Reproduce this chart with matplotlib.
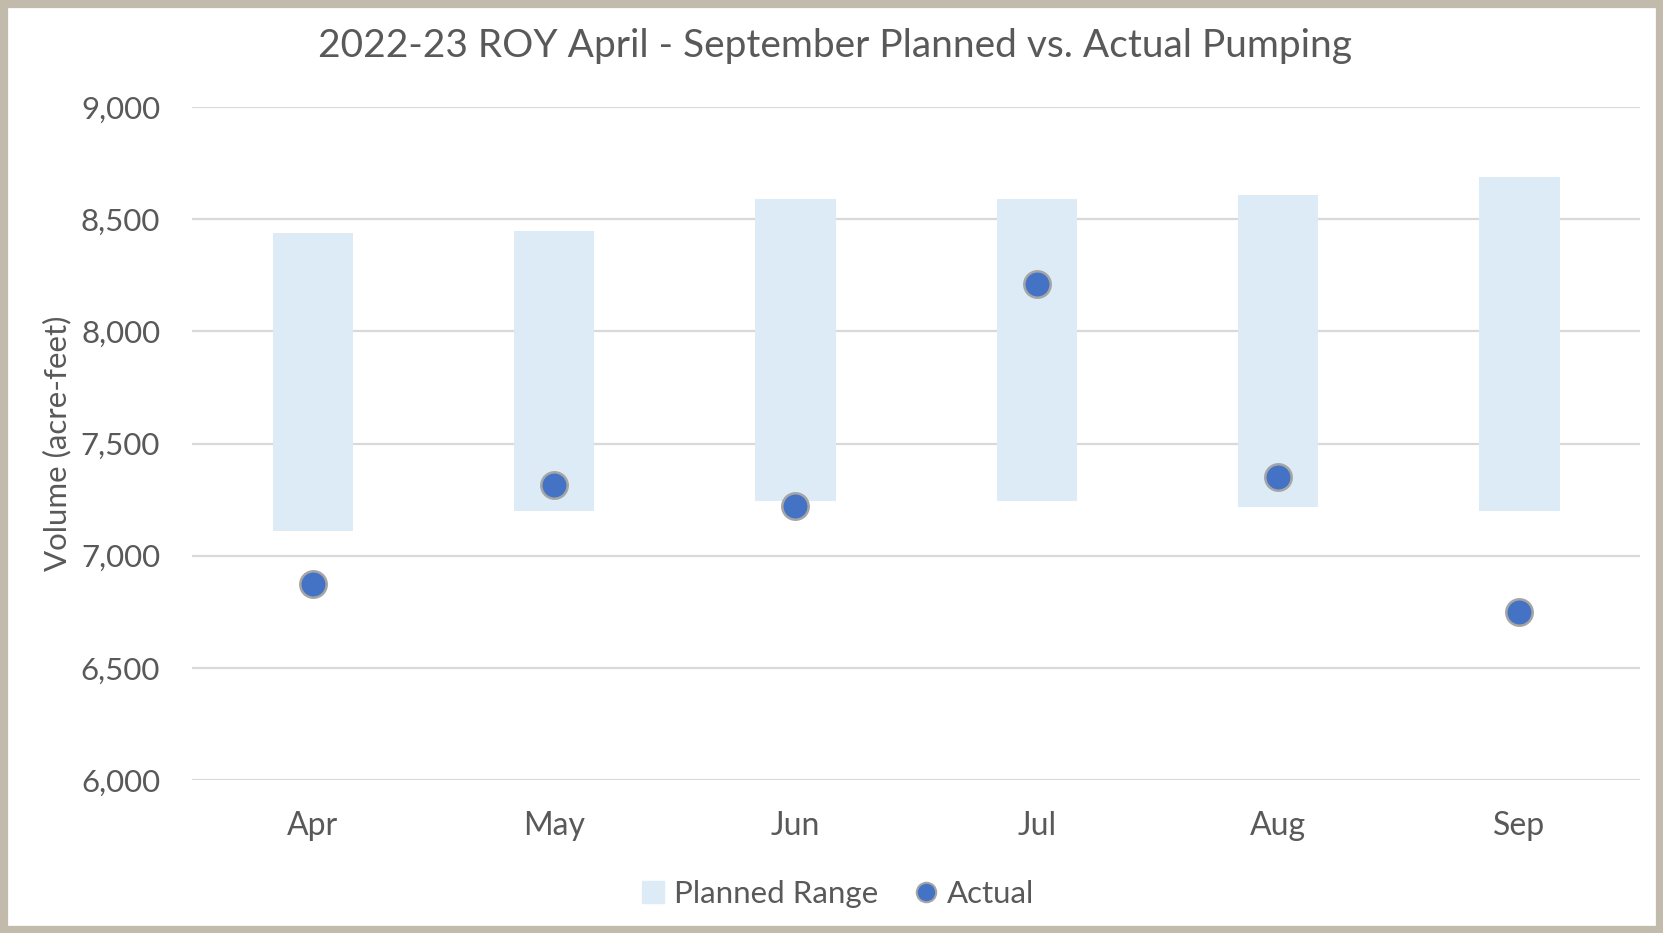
import matplotlib.pyplot as plt
from matplotlib.patches import Rectangle
from matplotlib.lines import Line2D
import numpy as np

# datos
months = ['Apr', 'May', 'Jun', 'Jul', 'Aug', 'Sep']
planned_low = [7110, 7200, 7245, 7245, 7218, 7200]
planned_high = [8440, 8448, 8592, 8592, 8610, 8688]
actual = [6873, 7315, 7222, 8212, 7350, 6750]
y_ticks = [6000, 6500, 7000, 7500, 8000, 8500, 9000]

plt.rcParams['font.family'] = ['Lato', 'DejaVu Sans']
text_color = '#595959'

fig = plt.figure(figsize=(16.63, 9.33), dpi=100)
ax = fig.add_axes([0.1155, 0.164, 0.8707, 0.7213])

x = np.arange(len(months))
heights = np.array(planned_high) - np.array(planned_low)

# rango planificado como barras flotantes
ax.bar(x, heights, bottom=planned_low, width=1/3, color='#DDEBF7', zorder=2)

# puntos reales
ax.plot(x, actual, linestyle='none', marker='o', markersize=19,
        markerfacecolor='#4472C4', markeredgecolor='#A5A5A5',
        markeredgewidth=1.8, zorder=3)

ax.set_xlim(-0.5, len(months) - 0.5)
ax.set_ylim(6000, 9000)
ax.set_yticks(y_ticks)
ax.set_yticklabels([f'{v:,}' for v in y_ticks])
ax.set_xticks(x)
ax.set_xticklabels(months)

ax.grid(axis='y', color='#D9D9D9', linewidth=1.6, zorder=1)
ax.set_axisbelow(True)
for s in ax.spines.values():
    s.set_visible(False)
ax.tick_params(axis='y', length=0, labelsize=22.5, colors=text_color, pad=23)
ax.tick_params(axis='x', length=0, labelsize=23, colors=text_color, pad=22)

ax.set_ylabel('Volume (acre-feet)', fontsize=22.5, color=text_color, labelpad=7)
fig.text(0.502, 0.951, '2022-23 ROY April - September Planned vs. Actual Pumping',
         ha='center', va='center', fontsize=28, color=text_color)

# leyenda
handles = [Rectangle((0, 0), 1, 1, color='#DDEBF7'),
           Line2D([], [], linestyle='none', marker='o', markersize=14,
                  markerfacecolor='#4472C4', markeredgecolor='#A5A5A5',
                  markeredgewidth=1.5)]
fig.legend(handles, ['Planned Range', 'Actual'], loc='center',
           bbox_to_anchor=(0.504, 0.042), ncol=2, frameon=False,
           fontsize=22.5, labelcolor=text_color, handlelength=0.7,
           handletextpad=0.3, columnspacing=1.2)

# marco
fig.patches.append(Rectangle((0, 0), 1, 1, transform=fig.transFigure,
                             fill=False, edgecolor='#C2BAAA', linewidth=11))

fig.savefig('out.png', dpi=100)
